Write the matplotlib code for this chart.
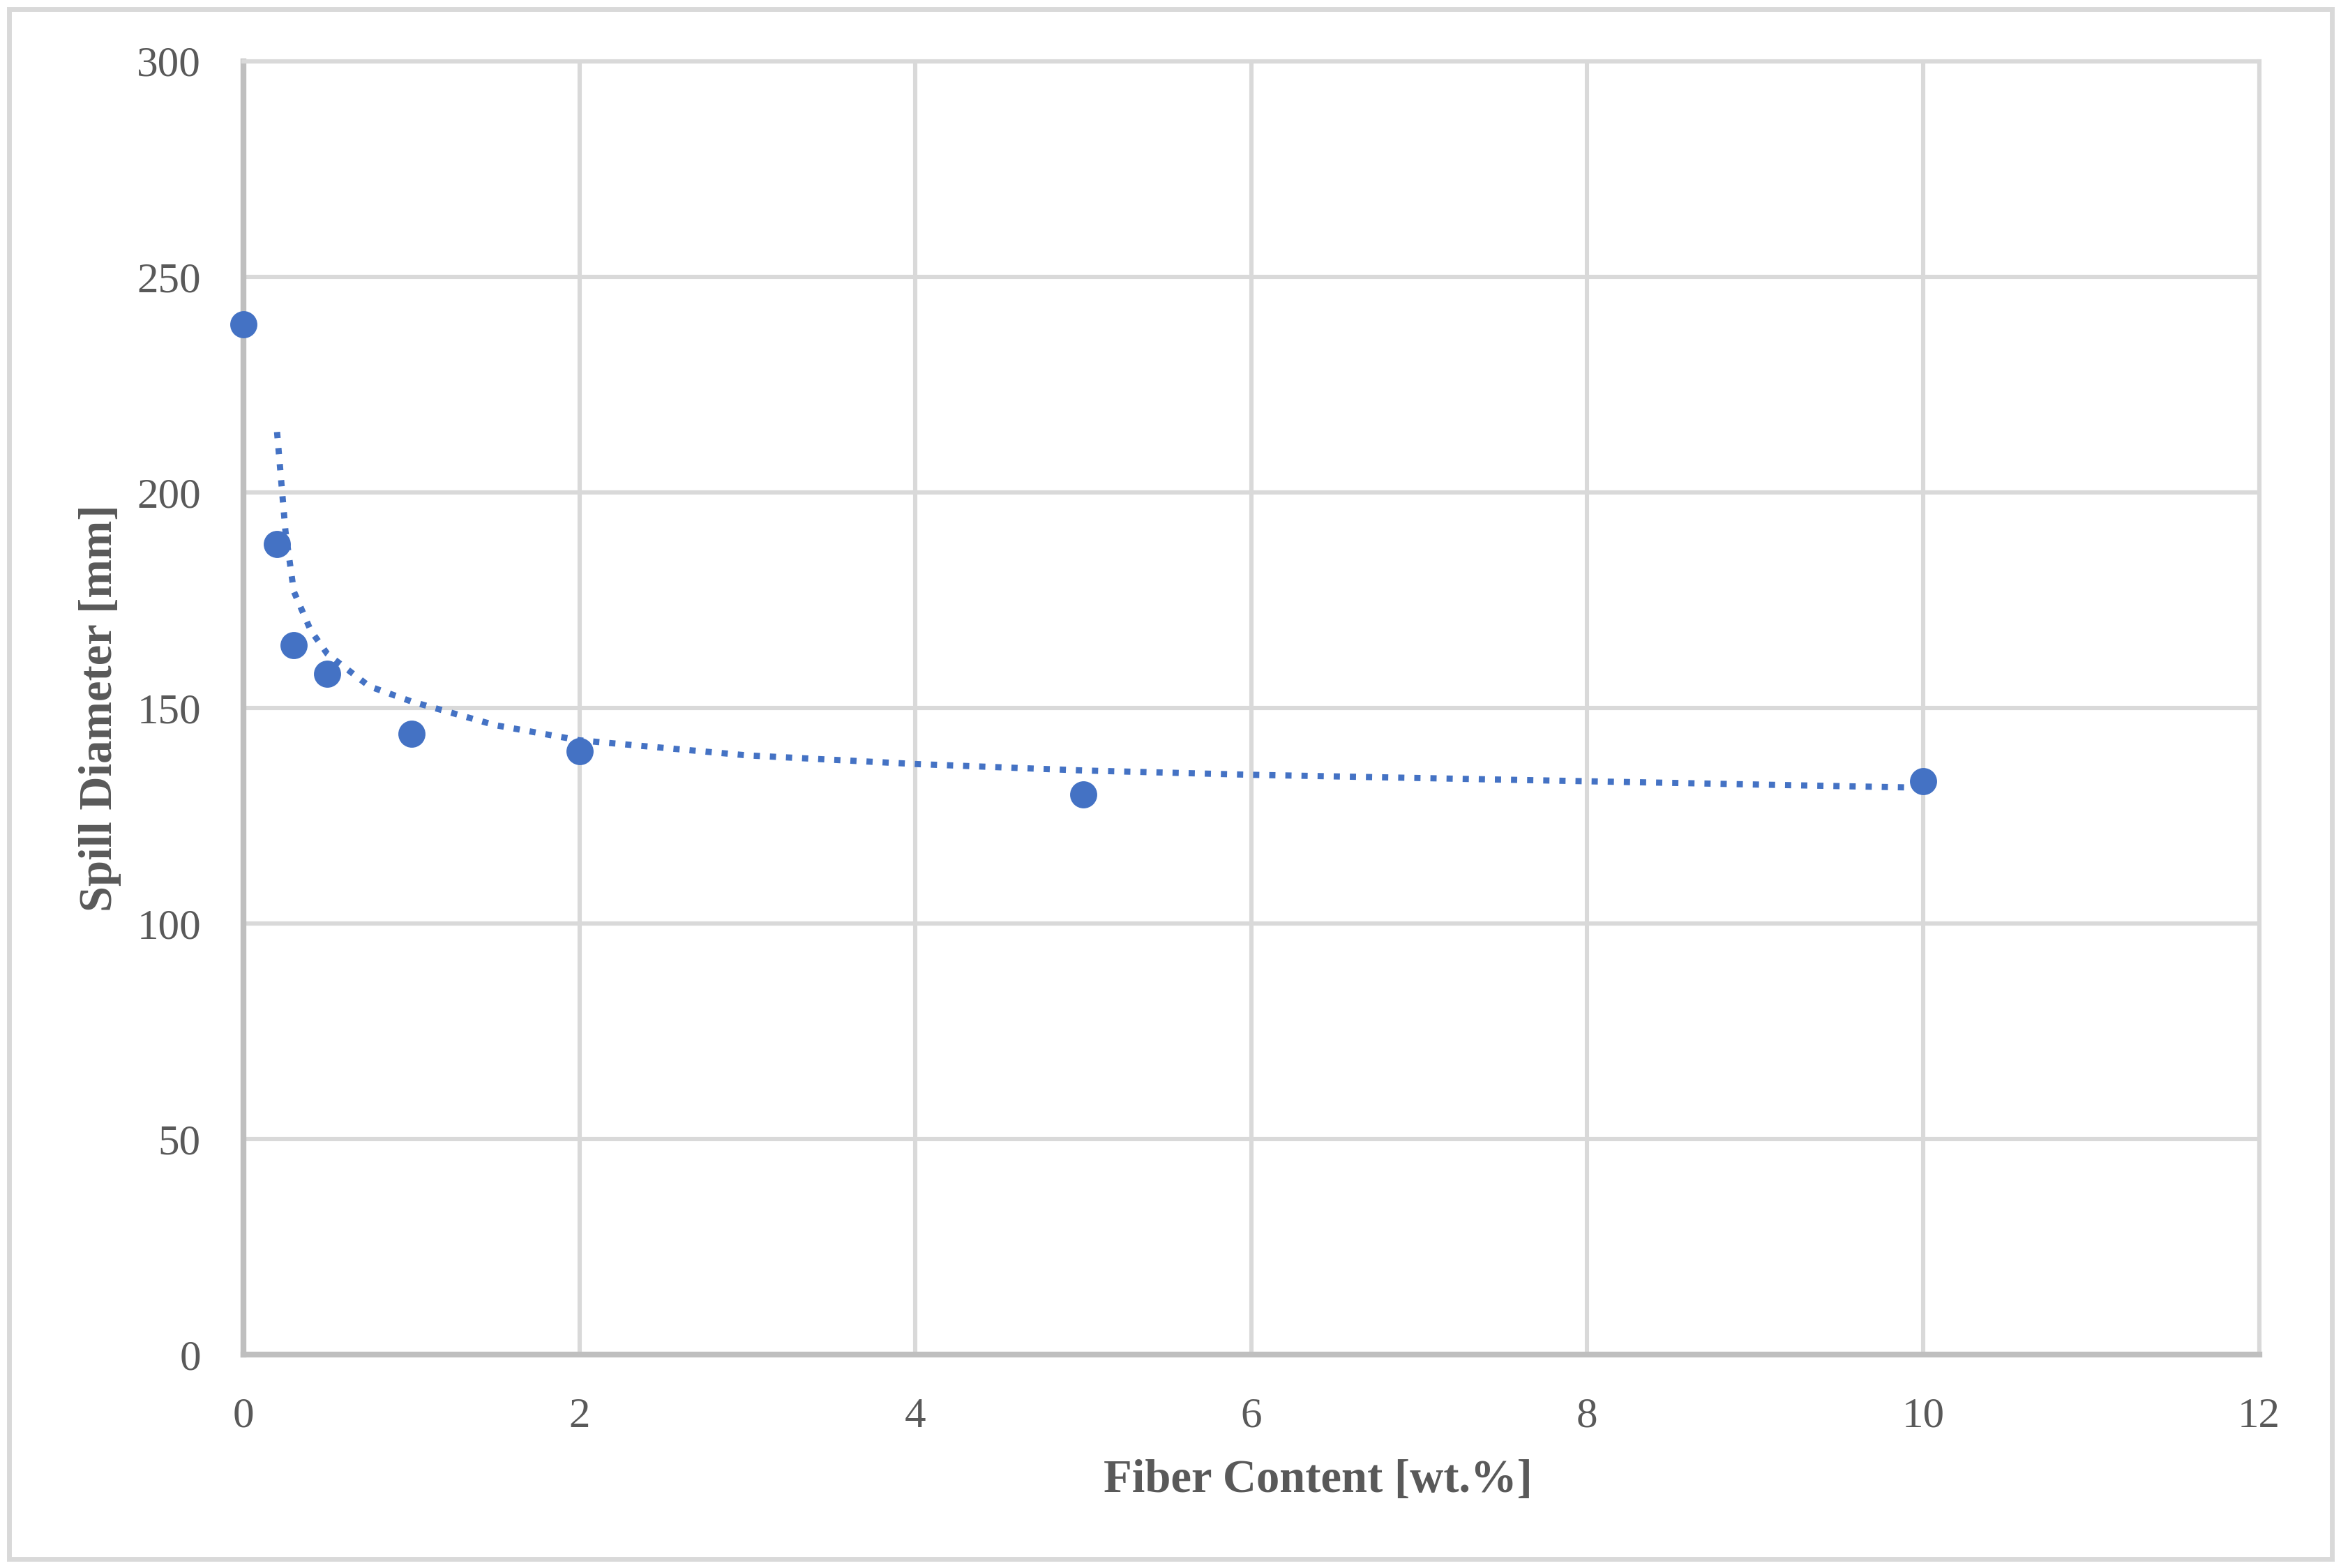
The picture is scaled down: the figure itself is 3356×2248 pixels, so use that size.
import matplotlib
matplotlib.use("Agg")
import matplotlib.pyplot as plt
from matplotlib.patches import Rectangle

# measured points
fiber = [0, 0.2, 0.3, 0.5, 1, 2, 5, 10]
spill = [239, 188, 164.5, 158, 144, 140, 130, 133]

# trend line
trend_x = [0.2, 0.25, 0.3, 0.4, 0.5, 0.75, 1, 1.5, 2, 3, 4, 5, 6, 8, 10]
trend_y = [214, 191, 177, 168, 162.5, 155, 151.5, 146, 142.5, 139, 137, 135.5, 134.5, 133, 131.5]

x_ticks = [0, 2, 4, 6, 8, 10, 12]
y_ticks = [0, 50, 100, 150, 200, 250, 300]

blue = "#4472C4"
text_col = "#595959"
grid_col = "#D9D9D9"

plt.rcParams["font.family"] = ["Liberation Serif", "DejaVu Serif"]

fig = plt.figure(figsize=(16.78, 11.24), dpi=200)
ax = fig.add_axes([0.104, 0.136, 0.861, 0.825])

ax.plot(trend_x, trend_y, linestyle=(0, (1, 1.6)), color=blue, linewidth=3.2, zorder=3)
ax.plot(fiber, spill, "o", color=blue, markersize=13, zorder=4, clip_on=False)

ax.set_xlim(0, 12)
ax.set_ylim(0, 300)
ax.set_xticks(x_ticks)
ax.set_yticks(y_ticks)
ax.grid(True, color=grid_col, linewidth=2.2)
ax.set_axisbelow(True)

for side in ["top", "right"]:
    ax.spines[side].set_color(grid_col)
    ax.spines[side].set_linewidth(2.2)
for side in ["left", "bottom"]:
    ax.spines[side].set_color("#BFBFBF")
    ax.spines[side].set_linewidth(3)

ax.tick_params(length=0, labelsize=22, colors=text_col, pad=22)
ax.tick_params(axis="x", pad=22)

ax.set_xlabel("Fiber Content [wt.%]", fontsize=24, fontweight="bold", color=text_col, labelpad=12)
ax.xaxis.label.set_x(0.533)
ax.set_ylabel("Spill Diameter [mm]", fontsize=24, fontweight="bold", color=text_col, labelpad=8)

# light frame round the whole chart
fig.patches.append(Rectangle((0.004, 0.006), 0.992, 0.988, transform=fig.transFigure,
                             fill=False, edgecolor="#D9D9D9", linewidth=2.5))

fig.savefig("out.png", dpi=200, facecolor="white")
